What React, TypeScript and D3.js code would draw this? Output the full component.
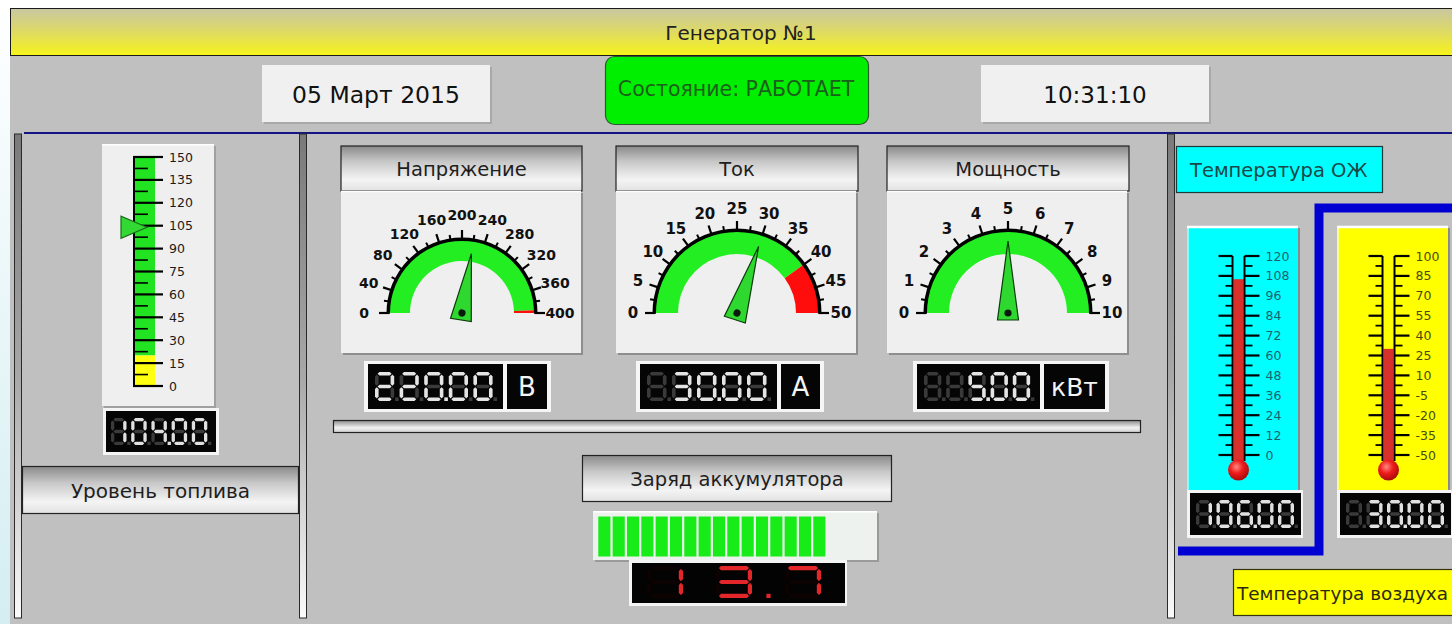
import React from "react";
import * as d3 from "d3";

// ---------------- data ----------------
const titleText = "Генератор №1";
const dateText = "05 Март 2015";
const timeText = "10:31:10";
const statusText = "Состояние: РАБОТАЕТ";

const gaugeTitles = ["Напряжение", "Ток", "Мощность"];
const gaugeMax = [400, 50, 10];
const gaugeStep = [40, 5, 1];
const gaugeValues = [220, 30, 5];
const gaugeRedFrom = [395, 40, 10];
const gaugeUnits = ["В", "А", "кВт"];

const fuelTicks = [0, 15, 30, 45, 60, 75, 90, 105, 120, 135, 150];
const fuelValue = 104;
const fuelYellowTo = 20;
const fuelLabel = "Уровень топлива";

const coolantTicks = [0, 12, 24, 36, 48, 60, 72, 84, 96, 108, 120];
const coolantValue = 106;
const coolantLabel = "Температура ОЖ";

const airTicks = [-50, -35, -20, -5, 10, 25, 40, 55, 70, 85, 100];
const airValue = 30;
const airLabel = "Температура воздуха";

const batteryLabel = "Заряд аккумулятора";
const batteryValue = 13.7;
const batteryMax = 16;
const batterySegments = 19;

// ---------------- helpers ----------------
const FONT = "'DejaVu Sans', Verdana, sans-serif";
const W = 1452;
const H = 624;

const DIGIT_SEGS: Record<string, string> = {
  "0": "abcdef", "1": "bc", "2": "abged", "3": "abgcd", "4": "fgbc",
  "5": "afgcd", "6": "afgedc", "7": "abc", "8": "abcdefg", "9": "abcdfg", " ": "",
};

function segPolys(x: number, y: number, w: number, h: number, t: number) {
  const g = 0.8;
  const x0 = x + t / 2, x1 = x + w - t / 2;
  const y0 = y + t / 2, ym = y + h / 2, y1 = y + h - t / 2;
  const hs = (a: number, b: number, yy: number) =>
    [[a + g, yy], [a + g + t / 2, yy - t / 2], [b - g - t / 2, yy - t / 2], [b - g, yy], [b - g - t / 2, yy + t / 2], [a + g + t / 2, yy + t / 2]];
  const vs = (xx: number, a: number, b: number) =>
    [[xx, a + g], [xx + t / 2, a + g + t / 2], [xx + t / 2, b - g - t / 2], [xx, b - g], [xx - t / 2, b - g - t / 2], [xx - t / 2, a + g + t / 2]];
  const m: Record<string, number[][]> = {
    a: hs(x0, x1, y0), b: vs(x1, y0, ym), c: vs(x1, ym, y1), d: hs(x0, x1, y1),
    e: vs(x0, ym, y1), f: vs(x0, y0, ym), g: hs(x0, x1, ym),
  };
  return m;
}

function SevenSeg(props: {
  text: string; x: number; y: number; pitch: number; w: number; h: number; t: number;
  on: string; off: string; dotAfter: number; showOffDots?: boolean;
}) {
  const { text, x, y, pitch, w, h, t, on, off, dotAfter, showOffDots } = props;
  const out: any[] = [];
  text.split("").forEach((ch, i) => {
    const dx = x + i * pitch;
    const segs = segPolys(dx, y, w, h, t);
    const lit = DIGIT_SEGS[ch] || "";
    "abcdefg".split("").forEach((s) => {
      const isOn = lit.includes(s);
      out.push(
        <polygon key={`${i}${s}`} points={segs[s].map((p) => p.join(",")).join(" ")} fill={isOn ? on : off} />
      );
    });
    const dotOn = i === dotAfter;
    if (dotOn || showOffDots) {
      out.push(
        <rect key={`dot${i}`} x={dx + w + (pitch - w) / 2 - t / 2} y={y + h - t} width={t} height={t} fill={dotOn ? on : off} />
      );
    }
  });
  return <g>{out}</g>;
}

function fmtDigits(v: number, count: number, decimals: number) {
  const s = v.toFixed(decimals).replace(".", "");
  return s.padStart(count, " ");
}

function MetalBox({ x, y, w, h, text, fs }: { x: number; y: number; w: number; h: number; text: string; fs: number }) {
  return (
    <g>
      <rect x={x} y={y} width={w} height={h} fill="url(#metal)" stroke="#222" strokeWidth={1.2} />
      <text x={x + w / 2} y={y + h / 2 + 1} textAnchor="middle" dominantBaseline="central" fontFamily={FONT} fontSize={fs} fill="#1e1e1e">
        {text}
      </text>
    </g>
  );
}

function FrameBar({ x, y1, y2, w }: { x: number; y1: number; y2: number; w: number }) {
  return <rect x={x} y={y1} width={w} height={y2 - y1} fill="url(#frameBar)" stroke="#2a2a2a" strokeWidth={1} />;
}

// ---------------- gauge ----------------
const gaugeLayout = [
  { x: 341, hw: 241, bw: 240, cx: 462, cy: 313, ro: 73, ri: 52, rl: 98, fs: 14, L: 60, nw: 21 },
  { x: 616, hw: 242, bw: 240, cx: 737, cy: 313, ro: 82, ri: 59, rl: 104, fs: 15, L: 70, nw: 22 },
  { x: 887, hw: 242, bw: 240, cx: 1008, cy: 313, ro: 82, ri: 59, rl: 104, fs: 15, L: 72, nw: 21 },
];
const displayLayout = [
  { dx: 368, dw: 135, ux: 507, uw: 40, ufs: 26 },
  { dx: 640, dw: 137, ux: 781, uw: 39, ufs: 26 },
  { dx: 917, dw: 123, ux: 1044, uw: 61, ufs: 25 },
];

function Gauge({ i }: { i: number }) {
  const L = gaugeLayout[i];
  const max = gaugeMax[i];
  const step = gaugeStep[i];
  const ang = d3.scaleLinear().domain([0, max]).range([-Math.PI / 2, Math.PI / 2]);
  const arc = d3.arc<any>();
  const majors = d3.range(0, max + step / 2, step);
  const minors = d3.range(step / 2, max, step);
  const redFrom = gaugeRedFrom[i];
  const green = arc({ innerRadius: L.ri, outerRadius: L.ro, startAngle: ang(0), endAngle: ang(redFrom) }) as string;
  const red = redFrom < max ? (arc({ innerRadius: L.ri, outerRadius: L.ro, startAngle: ang(redFrom), endAngle: ang(max) }) as string) : null;
  const rim = arc({ innerRadius: L.ro - 1, outerRadius: L.ro + 2.5, startAngle: ang(0) - 0.01, endAngle: ang(max) + 0.01 }) as string;
  const needleDeg = (ang(gaugeValues[i]) * 180) / Math.PI;
  const pt = (a: number, r: number) => [L.cx + r * Math.sin(a), L.cy - r * Math.cos(a)];
  const D = displayLayout[i];
  const digits = fmtDigits(gaugeValues[i], 5, 2);
  const pitch = (D.dw - 12) / 5;
  return (
    <g>
      {/* header */}
      <MetalBox x={L.x} y={146} w={L.hw} h={45} text={gaugeTitles[i]} fs={19.5} />
      {/* body */}
      <rect x={L.x + 2} y={193} width={L.bw} height={162} fill="#8e8e8e" />
      <rect x={L.x} y={191} width={L.bw} height={162} fill="#efefef" />
      <line x1={L.x} y1={191.5} x2={L.x + L.bw} y2={191.5} stroke="#ffffff" strokeWidth={1.5} />
      <g transform={`translate(${L.cx},${L.cy})`}>
        <path d={green} fill="#22ee22" />
        {red && <path d={red} fill="#ff0d0d" />}
        <path d={rim} fill="#000" />
      </g>
      {majors.map((v) => {
        const [x1, y1] = pt(ang(v), L.ro);
        const [x2, y2] = pt(ang(v), L.ro + 10);
        return <line key={`M${v}`} x1={x1} y1={y1} x2={x2} y2={y2} stroke="#000" strokeWidth={2.2} />;
      })}
      {minors.map((v) => {
        const [x1, y1] = pt(ang(v), L.ro);
        const [x2, y2] = pt(ang(v), L.ro + 6);
        return <line key={`m${v}`} x1={x1} y1={y1} x2={x2} y2={y2} stroke="#000" strokeWidth={2} />;
      })}
      {majors.map((v) => {
        const [x, y] = pt(ang(v), L.rl);
        return (
          <text key={`t${v}`} x={x} y={y} textAnchor="middle" dominantBaseline="central" fontFamily={FONT} fontWeight="bold" fontSize={L.fs} fill="#111">
            {v}
          </text>
        );
      })}
      <g transform={`translate(${L.cx},${L.cy}) rotate(${needleDeg})`}>
        <polygon points={`0,${-L.L} ${-L.nw / 2},7 ${L.nw / 2},7`} fill="#2fd82f" stroke="#0c3a0c" strokeWidth={1.2} />
        <circle cx={0} cy={0} r={3.6} fill="#0a1a0a" />
      </g>
      {/* display */}
      <rect x={D.dx - 4} y={361} width={D.ux + D.uw - D.dx + 8} height={51} fill="#f6f6f6" />
      <rect x={D.dx} y={364} width={D.dw} height={45} fill="#050505" />
      <rect x={D.ux} y={364} width={D.uw} height={45} fill="#050505" />
      <SevenSeg text={digits} x={D.dx + 7} y={372} pitch={pitch} w={pitch * 0.78} h={29} t={3.6} on="#e4e4e4" off="#3a3a3a" dotAfter={2} showOffDots />
      <text x={D.ux + D.uw / 2} y={387} textAnchor="middle" dominantBaseline="central" fontFamily={FONT} fontSize={D.ufs} fill="#f4f4f4">
        {gaugeUnits[i]}
      </text>
    </g>
  );
}

// ---------------- thermometer ----------------
function Thermo({ px, color, ticks, value, tubeX, labelColor }: { px: number; color: string; ticks: number[]; value: number; tubeX: number; labelColor: string }) {
  const y = d3.scaleLinear().domain([ticks[0], ticks[ticks.length - 1]]).range([455, 256]);
  const minors = ticks.slice(0, -1).map((t, k) => (t + ticks[k + 1]) / 2);
  const lx = tubeX - 6, rx = tubeX + 6;
  const digits = fmtDigits(value, 5, 2);
  return (
    <g>
      <rect x={px + 2} y={228} width={111} height={264} fill="#8a8a8a" />
      <rect x={px} y={226} width={111} height={264} fill={color} />
      <line x1={px} y1={227} x2={px + 111} y2={227} stroke="#fff" strokeWidth={2.5} />
      <line x1={px + 1} y1={226} x2={px + 1} y2={490} stroke="#f4ffff" strokeWidth={1.5} opacity={0.7} />
      {/* fill */}
      <rect x={tubeX - 5} y={y(value)} width={10} height={462 - y(value)} fill="#d8302a" />
      <line x1={lx} y1={256} x2={lx} y2={461} stroke="#000" strokeWidth={2} />
      <line x1={rx} y1={256} x2={rx} y2={461} stroke="#000" strokeWidth={2} />
      {ticks.map((t) => (
        <g key={`T${t}`}>
          <line x1={lx - 14} y1={y(t)} x2={lx} y2={y(t)} stroke="#000" strokeWidth={2.2} />
          <line x1={rx} y1={y(t)} x2={rx + 15} y2={y(t)} stroke="#000" strokeWidth={2.2} />
          <text x={rx + 21} y={y(t)} dominantBaseline="central" fontFamily={FONT} fontSize={12.5} fill={labelColor}>
            {t}
          </text>
        </g>
      ))}
      {minors.map((t) => (
        <g key={`m${t}`}>
          <line x1={lx - 7} y1={y(t)} x2={lx} y2={y(t)} stroke="#000" strokeWidth={1.8} />
          <line x1={rx} y1={y(t)} x2={rx + 8} y2={y(t)} stroke="#000" strokeWidth={1.8} />
        </g>
      ))}
      <circle cx={tubeX} cy={470} r={10.5} fill="url(#bulb)" />
      {/* display */}
      <rect x={px} y={490} width={116} height={48} fill="#f4f4f4" />
      <rect x={px + 3} y={493} width={111} height={42} fill="#050505" />
      <SevenSeg text={digits} x={px + 9} y={500} pitch={20.5} w={16} h={28} t={3.4} on="#e0e0e0" off="#3a3a3a" dotAfter={2} showOffDots />
    </g>
  );
}

// ---------------- App ----------------
export default function App() {
  const fy = d3.scaleLinear().domain([0, 150]).range([386, 157]);
  const fuelMinors = fuelTicks.slice(0, -1).map((t, k) => (t + fuelTicks[k + 1]) / 2);
  const litSegs = Math.floor((batteryValue / batteryMax) * batterySegments);
  const segX = d3.scaleLinear().domain([0, batterySegments]).range([598.3, 870.6]);
  const segIdx = d3.range(litSegs);

  return (
    <svg width={W} height={H} viewBox={`0 0 ${W} ${H}`} style={{ position: "absolute", left: 0, top: 0, display: "block" }}>
      <defs>
        <linearGradient id="title" x1="0" y1="0" x2="0" y2="1">
          <stop offset="0" stopColor="#c9c7a2" />
          <stop offset="0.45" stopColor="#dcd86a" />
          <stop offset="1" stopColor="#f7f41a" />
        </linearGradient>
        <linearGradient id="metal" x1="0" y1="0" x2="0" y2="1">
          <stop offset="0" stopColor="#8a8a8a" />
          <stop offset="0.35" stopColor="#c8c8c8" />
          <stop offset="0.75" stopColor="#f4f4f4" />
          <stop offset="1" stopColor="#e2e2e2" />
        </linearGradient>
        <linearGradient id="frameBar" x1="0" y1="0" x2="0" y2="1">
          <stop offset="0" stopColor="#7a7a7a" />
          <stop offset="0.5" stopColor="#a8a8a8" />
          <stop offset="1" stopColor="#fbfbfb" />
        </linearGradient>
        <linearGradient id="leftStrip" x1="0" y1="0" x2="0" y2="1">
          <stop offset="0" stopColor="#ffffff" />
          <stop offset="1" stopColor="#d4eef2" />
        </linearGradient>
        <linearGradient id="divider" x1="0" y1="0" x2="0" y2="1">
          <stop offset="0" stopColor="#8c8c8c" />
          <stop offset="0.6" stopColor="#f2f2f2" />
          <stop offset="1" stopColor="#d0d0d0" />
        </linearGradient>
        <radialGradient id="bulb" cx="0.4" cy="0.35" r="0.7">
          <stop offset="0" stopColor="#ff8a80" />
          <stop offset="0.45" stopColor="#ee1c1c" />
          <stop offset="1" stopColor="#a00808" />
        </radialGradient>
      </defs>

      {/* background */}
      <rect x={0} y={0} width={W} height={H} fill="#c0c0c0" />
      <rect x={0} y={0} width={W} height={8} fill="#ffffff" />
      <rect x={0} y={0} width={10} height={H} fill="url(#leftStrip)" />

      {/* title */}
      <rect x={10.5} y={8.5} width={W} height={47} fill="url(#title)" stroke="#1a1a1a" strokeWidth={1} />
      <text x={741} y={33} textAnchor="middle" dominantBaseline="central" fontFamily={FONT} fontSize={20} fill="#222">
        {titleText}
      </text>

      {/* date / status / time */}
      <rect x={264} y={67} width={228} height={57} fill="#a9a9a9" />
      <rect x={262} y={65} width={228} height={57} fill="#f0f0f0" />
      <text x={376} y={95} textAnchor="middle" dominantBaseline="central" fontFamily={FONT} fontSize={23.5} fill="#111">
        {dateText}
      </text>
      <rect x={605.5} y={56.5} width={263} height={68} rx={9} fill="#00ee00" stroke="#2c5a2c" strokeWidth={1.2} />
      <text x={736} y={89} textAnchor="middle" dominantBaseline="central" fontFamily={FONT} fontSize={20.5} fill="#1c5f1c">
        {statusText}
      </text>
      <rect x={983} y={67} width={228} height={57} fill="#a9a9a9" />
      <rect x={981} y={65} width={228} height={57} fill="#f0f0f0" />
      <text x={1095} y={95} textAnchor="middle" dominantBaseline="central" fontFamily={FONT} fontSize={23} fill="#111">
        {timeText}
      </text>

      {/* blue rule */}
      <line x1={24} y1={133} x2={W} y2={133} stroke="#141485" strokeWidth={2.2} />

      {/* frame bars */}
      <FrameBar x={14.5} y1={134} y2={618} w={7} />
      <FrameBar x={299.5} y1={134} y2={618} w={7} />
      <FrameBar x={1167.5} y1={134} y2={618} w={7} />

      {/* fuel gauge */}
      <rect x={104} y={146} width={112} height={262} fill="#a0a0a0" />
      <rect x={102} y={144} width={112} height={262} fill="#efefef" />
      <line x1={102} y1={144.8} x2={214} y2={144.8} stroke="#fff" strokeWidth={1.5} />
      <rect x={133} y={fy(150)} width={22} height={fy(fuelYellowTo) - fy(150)} fill="#22e322" />
      <rect x={133} y={fy(fuelYellowTo)} width={22} height={fy(0) - fy(fuelYellowTo)} fill="#ffff10" />
      <line x1={134} y1={fy(150)} x2={134} y2={fy(0)} stroke="#000" strokeWidth={2} />
      {fuelTicks.map((t) => (
        <g key={`f${t}`}>
          <line x1={133} y1={fy(t)} x2={163} y2={fy(t)} stroke="#000" strokeWidth={2.2} />
          <text x={169} y={fy(t)} dominantBaseline="central" fontFamily={FONT} fontSize={12.5} fill="#1a1a1a">
            {t}
          </text>
        </g>
      ))}
      {fuelMinors.map((t) => (
        <line key={`fm${t}`} x1={133} y1={fy(t)} x2={148} y2={fy(t)} stroke="#000" strokeWidth={1.6} />
      ))}
      <polygon
        points={`${147},${fy(fuelValue)} ${121},${fy(fuelValue) - 11} ${121},${fy(fuelValue) + 11}`}
        fill="#33d933"
        stroke="#1d6a1d"
        strokeWidth={1.2}
      />
      <rect x={103} y={408} width={116} height={47} fill="#f4f4f4" />
      <rect x={106} y={411} width={110} height={41} fill="#050505" />
      <SevenSeg text={fmtDigits(fuelValue, 5, 2)} x={111} y={418} pitch={20.2} w={15.5} h={27} t={3.3} on="#e0e0e0" off="#3a3a3a" dotAfter={2} showOffDots />
      <MetalBox x={22.5} y={466.5} w={276} h={47} text={fuelLabel} fs={20} />

      {/* gauges */}
      {gaugeTitles.map((_, i) => (
        <Gauge key={i} i={i} />
      ))}

      {/* divider */}
      <rect x={333.5} y={420.5} width={807} height={12} fill="url(#divider)" stroke="#222" strokeWidth={1.2} />

      {/* battery */}
      <MetalBox x={582.5} y={455.5} w={309} h={46} text={batteryLabel} fs={19.5} />
      <rect x={595} y={513} width={284} height={49} fill="#9a9a9a" />
      <rect x={593} y={511} width={284} height={49} fill="#eef2ee" />
      <line x1={593} y1={511.8} x2={877} y2={511.8} stroke="#fff" strokeWidth={1.5} />
      {segIdx.map((k) => (
        <rect key={`b${k}`} x={segX(k)} y={516.5} width={segX(k + 1) - segX(k) - 2.2} height={40} fill="#18ec18" />
      ))}
      <rect x={629} y={560} width={218} height={46} fill="#f4f4f4" />
      <rect x={632} y={563} width={213} height={40} fill="#030303" />
      <SevenSeg text={fmtDigits(batteryValue, 3, 1)} x={647} y={566} pitch={69} w={36} h={32} t={4.2} on="#e3262a" off="#0c0202" dotAfter={1} />

      {/* right panel */}
      <path d={`M ${W} 208 L 1319 208 L 1319 551 L 1178 551`} fill="none" stroke="#0000d2" strokeWidth={9} />
      <rect x={1176.5} y={146.5} width={206} height={46} fill="#00ffff" stroke="#1c3a3a" strokeWidth={1.2} />
      <text x={1190} y={170} dominantBaseline="central" fontFamily={FONT} fontSize={19.5} fill="#1a4848">
        {coolantLabel}
      </text>
      <Thermo px={1187} color="#00ffff" ticks={coolantTicks} value={coolantValue} tubeX={1238.5} labelColor="#1d5f6e" />
      <Thermo px={1337} color="#ffff00" ticks={airTicks} value={airValue} tubeX={1388.5} labelColor="#4a4a10" />
      <rect x={1233.5} y={569.5} width={240} height={46} fill="#ffff00" stroke="#333310" strokeWidth={1.2} />
      <text x={1237} y={593} dominantBaseline="central" fontFamily={FONT} fontSize={18} textLength={211} lengthAdjust="spacingAndGlyphs" fill="#2a2a10">
        {airLabel}
      </text>
    </svg>
  );
}
